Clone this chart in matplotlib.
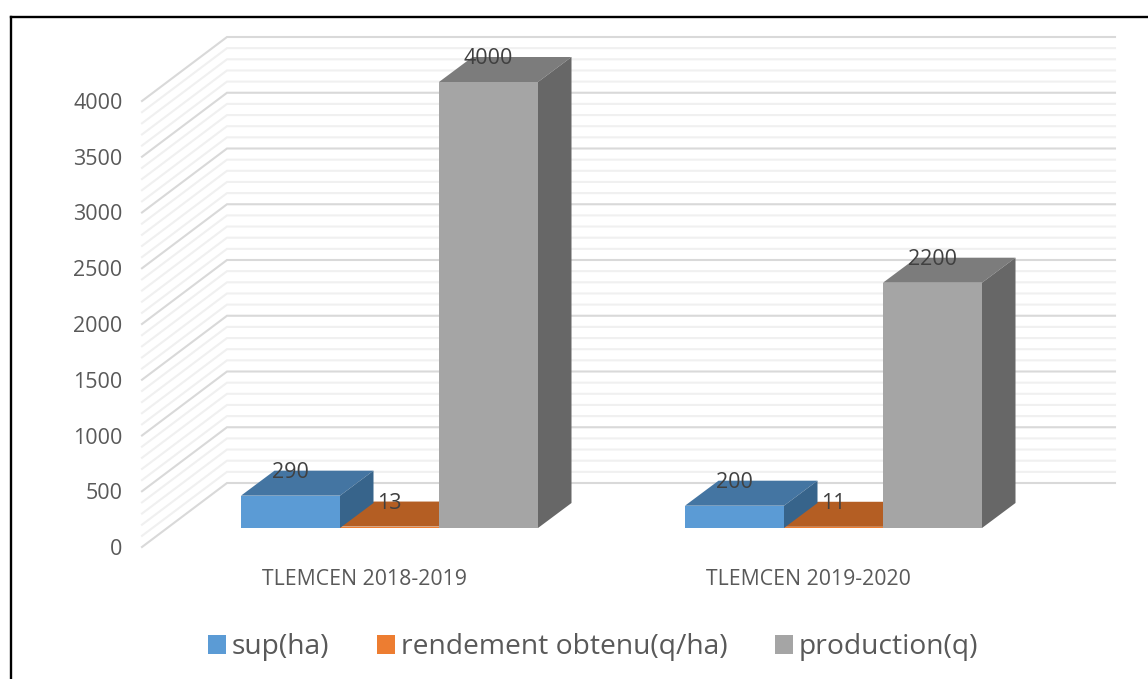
from matplotlib import pyplot as plt
from matplotlib.lines import Line2D
from matplotlib.patches import Patch

categories = ['TLEMCEN 2018-2019', 'TLEMCEN 2019-2020']
series_names = ['sup(ha)', 'rendement obtenu(q/ha)', 'production(q)']
sup_ha = [290, 200]
rendement = [13, 11]
production = [4000, 2200]
y_ticks = [0, 500, 1000, 1500, 2000, 2500, 3000, 3500, 4000]

W, H = 1148, 679
# pixels per data unit in the front plane
PX_X = 444.0
PX_Y = 446.0 / 4000


def px_x(p):
    return p / PX_X


def px_y(p):
    return p / PX_Y


def draw_walls(ax):
    back_dx, back_dy = px_x(85), px_y(64)
    for v in range(0, 4001, 100):
        major = v % 500 == 0
        color = '#d9d9d9' if major else '#f0f0f0'
        ax.plot([-0.5, -0.5 + back_dx, 1.5 + back_dx], [v, v + back_dy, v + back_dy],
                color=color, lw=1.5, clip_on=False, zorder=2 if major else 1,
                solid_joinstyle='miter')


def draw_bar(ax, x, value, offset, colors, order):
    front, top, side = colors
    width = px_x(99)
    left = x + px_x(25.5) + offset * width - width / 2
    right = left + width
    base = px_y(19)
    dx, dy = px_x(33.5), px_y(25)
    tip = base + value
    ax.bar(left, value, width, bottom=base, align='edge', color=front, zorder=order, clip_on=False)
    ax.fill([left, right, right + dx, left + dx], [tip, tip, tip + dy, tip + dy],
            color=top, lw=0, zorder=order, clip_on=False)
    ax.fill([right, right + dx, right + dx, right], [base, base + dy, tip + dy, tip],
            color=side, lw=0, zorder=order, clip_on=False)
    ax.text((left + right) / 2, tip + dy - px_y(1.5), str(value), ha='center', va='center',
            fontsize=15.5, color='#404040', zorder=10, clip_on=False)


def plot():
    plt.rcParams['font.family'] = ['Open Sans', 'DejaVu Sans']
    fig = plt.figure(figsize=(W / 100, H / 100), dpi=100)
    ax = fig.add_axes([142 / W, (H - 547) / H, 888 / W, 446 / H])
    ax.set_xlim(-0.5, 1.5)
    ax.set_ylim(0, 4000)
    ax.patch.set_visible(False)
    for spine in ax.spines.values():
        spine.set_visible(False)

    draw_walls(ax)

    styles = [
        (sup_ha, -1, ('#5b9bd5', '#4475a2', '#37648b'), 5),
        (rendement, 0, ('#ed7d31', '#b45e23', '#9b5120'), 4),
        (production, 1, ('#a5a5a5', '#7c7c7c', '#676767'), 5),
    ]
    for values, offset, colors, order in styles:
        for i, value in enumerate(values):
            draw_bar(ax, i, value, offset, colors, order)

    ax.set_yticks(y_ticks)
    ax.set_xticks([0, 1])
    ax.set_xticklabels(categories, fontsize=15.3, color='#595959')
    ax.tick_params(axis='y', length=0, pad=14, labelsize=15.5, labelcolor='#595959')
    ax.tick_params(axis='x', length=0, pad=15.5)

    handles = [Patch(color=c, lw=0) for c in ('#5b9bd5', '#ed7d31', '#a5a5a5')]
    fig.legend(handles, series_names, loc='center', bbox_to_anchor=(593 / W, (H - 647) / H),
               ncol=3, frameon=False, fontsize=20.3, labelcolor='#595959',
               handlelength=0.66, handleheight=0.66, handletextpad=0.2, columnspacing=1.67)

    # outer frame of the chart, open on the right
    for xs, ys in [([10.5, 10.5], [H, 16.5]), ([10.5, W], [16.5, 16.5])]:
        fig.add_artist(Line2D([x / W for x in xs], [(H - y) / H for y in ys], color='black', lw=1.7))

    fig.savefig('out.png', dpi=100)


def main():
    plot()


if __name__ == '__main__':
    main()
